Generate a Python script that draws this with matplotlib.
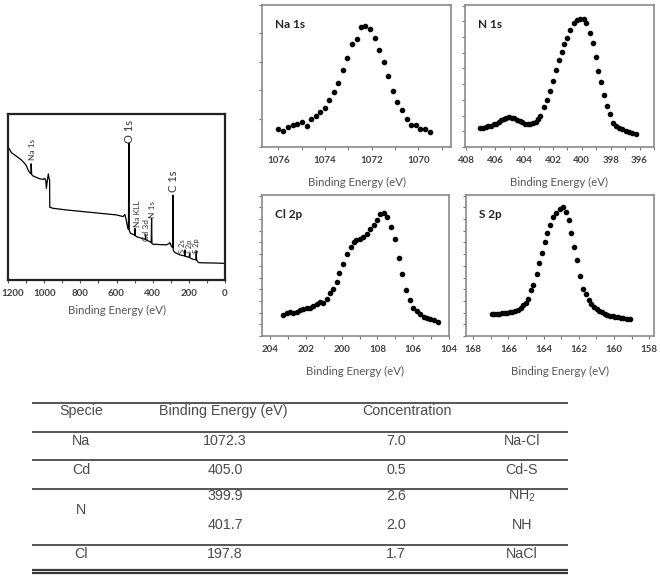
import matplotlib.pyplot as plt
from matplotlib.ticker import MultipleLocator, NullFormatter, FuncFormatter

# ---- survey spectrum (energy in eV, intensity in arbitrary units) ----
survey_e = [1200, 1181, 1163, 1145, 1126, 1108, 1098, 1089, 1080, 1073, 1072, 1069,
            1062, 1043, 1025, 1006, 997, 991, 988, 982, 977, 973, 970, 969, 951, 877,
            785, 692, 600, 563, 554, 548, 539, 534, 531, 530, 526, 522, 508, 500, 498,
            497, 489, 471, 452, 441, 439, 438, 434, 415, 408, 406, 404, 401, 397, 378,
            360, 323, 308, 305, 297, 290, 288, 286, 282, 277, 268, 249, 231, 223, 222,
            220, 212, 198, 196, 194, 190, 175, 161, 159, 157, 153, 148, 139, 102, 46, 0]
survey_i = [80.3, 76.7, 75.3, 73.9, 72.3, 70.3, 68.7, 66.3, 64.7, 64.0, 70.0, 63.5,
            62.7, 61.8, 61.0, 60.6, 61.2, 60.0, 55.2, 60.2, 63.9, 61.0, 60.5, 43.8, 43.2, 42.2,
            41.2, 40.2, 39.2, 38.2, 39.5, 37.1, 32.1, 30.5, 82.3, 30.1, 29.0, 28.1, 27.5, 27.1, 31.0,
            26.8, 26.1, 25.5, 24.8, 24.5, 27.5, 24.2, 24.0, 23.1, 22.5, 37.1, 22.0, 21.7, 21.5, 21.5,
            21.3, 21.2, 22.0, 22.5, 20.5, 19.5, 51.2, 18.0, 17.1, 16.5, 16.1, 15.1, 14.7, 14.5, 18.1,
            14.3, 14.1, 13.7, 16.1, 13.3, 13.1, 12.4, 12.2, 17.1, 12.0, 11.5, 10.6, 10.4, 10.3, 10.2, 10.0]
survey_labels = ['Na 1s', 'O 1s', 'Na KLL', 'Cd 3d', 'N 1s', 'C 1s', 'S 2s', 'Cl 2p', 'S 2p']
survey_label_e = [1067, 530, 486, 434, 401, 283, 235, 196, 155]
survey_label_i = [72.3, 82.7, 31.7, 23.7, 37.1, 53.2, 16.5, 14.0, 16.5]
survey_label_size = [6, 8, 6, 6, 6, 8, 5.5, 5.5, 5.5]

# ---- Na 1s ----
na_e = [1076.00, 1075.79, 1075.58, 1075.37, 1075.19, 1075.00, 1074.77, 1074.58, 1074.38,
        1074.21, 1074.02, 1073.82, 1073.63, 1073.43, 1073.24, 1073.04, 1072.85, 1072.65,
        1072.46, 1072.29, 1072.09, 1071.87, 1071.68, 1071.48, 1071.29, 1071.09, 1070.90,
        1070.70, 1070.50, 1070.31, 1070.11, 1069.92, 1069.72, 1069.51]
na_i = [0.65, 0.57, 0.71, 0.78, 0.80, 0.87, 0.75, 0.97, 1.08, 1.24, 1.39, 1.67, 1.94,
        2.26, 2.71, 3.15, 3.62, 3.79, 4.24, 4.26, 4.16, 3.85, 3.41, 3.01, 2.49, 1.98,
        1.59, 1.32, 0.99, 0.77, 0.77, 0.65, 0.65, 0.53]

# ---- N 1s ----
n_e = [407.03, 406.85, 406.66, 406.48, 406.29, 406.11, 405.92, 405.74, 405.58, 405.41,
       405.23, 405.04, 404.86, 404.67, 404.49, 404.30, 404.12, 403.94, 403.75, 403.57,
       403.38, 403.20, 403.03, 402.87, 402.64, 402.41, 402.23, 402.00, 401.81, 401.58,
       401.39, 401.21, 401.03, 400.79, 400.56, 400.33, 400.10, 399.87, 399.69, 399.45,
       399.22, 399.04, 398.85, 398.67, 398.48, 398.25, 398.02, 397.84, 397.61, 397.42,
       397.19, 396.96, 396.73, 396.50, 396.27]
n_i = [1.21, 1.23, 1.28, 1.32, 1.36, 1.45, 1.49, 1.57, 1.70, 1.81, 1.87, 1.91, 1.87,
       1.83, 1.74, 1.66, 1.62, 1.49, 1.45, 1.49, 1.53, 1.62, 1.79, 2.00, 2.55, 2.98,
       3.57, 4.21, 4.89, 5.53, 6.02, 6.53, 6.91, 7.45, 7.91, 8.09, 8.15, 8.13, 7.87,
       7.28, 6.60, 5.70, 4.85, 4.15, 3.30, 2.60, 2.13, 1.53, 1.32, 1.23, 1.15, 1.02,
       0.98, 0.89, 0.85]

# ---- Cl 2p ----
cl_e = [203.26, 203.07, 202.88, 202.70, 202.51, 202.33, 202.14, 201.96, 201.77, 201.58,
        201.40, 201.21, 201.03, 200.84, 200.65, 200.47, 200.28, 200.13, 199.95, 199.72,
        199.50, 199.32, 199.17, 198.98, 198.79, 198.61, 198.39, 198.20, 198.01, 197.83,
        197.64, 197.46, 197.23, 197.01, 196.82, 196.60, 196.42, 196.19, 196.01, 195.78,
        195.60, 195.41, 195.23, 195.04, 194.85, 194.63]
cl_i = [1.83, 1.97, 2.03, 1.97, 2.09, 2.20, 2.31, 2.40, 2.43, 2.54, 2.77, 2.89, 2.83,
        3.20, 3.69, 4.06, 4.63, 5.40, 6.14, 7.00, 7.63, 8.06, 8.20, 8.26, 8.43, 8.71,
        9.11, 9.51, 9.91, 10.43, 10.49, 10.20, 9.29, 8.26, 6.63, 5.34, 3.97, 3.11, 2.43,
        2.14, 1.86, 1.63, 1.51, 1.46, 1.40, 1.17]

# ---- S 2p ----
s_e = [166.96, 166.83, 166.67, 166.52, 166.37, 166.22, 166.07, 165.92, 165.77, 165.61,
       165.46, 165.31, 165.16, 165.01, 164.89, 164.74, 164.59, 164.40, 164.25, 164.10,
       163.95, 163.80, 163.61, 163.45, 163.27, 163.08, 162.89, 162.73, 162.58, 162.43,
       162.28, 162.13, 161.94, 161.75, 161.60, 161.45, 161.30, 161.14, 160.99, 160.84,
       160.69, 160.54, 160.39, 160.23, 160.08, 159.93, 159.78, 159.63, 159.48, 159.29, 159.10]
s_i = [1.91, 1.91, 1.91, 1.91, 1.94, 1.97, 2.00, 2.03, 2.09, 2.14, 2.26, 2.43, 2.63,
       2.83, 3.20, 3.91, 4.40, 5.29, 6.26, 7.11, 8.06, 8.77, 9.49, 10.14, 10.54, 10.89,
       11.00, 10.60, 9.91, 8.83, 7.57, 6.54, 5.11, 4.06, 3.57, 3.11, 2.77, 2.49, 2.31,
       2.14, 2.03, 1.91, 1.80, 1.74, 1.69, 1.63, 1.60, 1.57, 1.51, 1.49, 1.46]

# ---- table ----
table_header = ['Specie', 'Binding Energy (eV)', 'Concentration', '']
species = ['Na', 'Cd', 'N', 'Cl']
binding = ['1072.3', '405.0', '399.9', '401.7', '197.8']
concentration = ['7.0', '0.5', '2.6', '2.0', '1.7']
assignment = ['Na-Cl', 'Cd-S', r'$\mathregular{NH_2}$', 'NH', 'NaCl']

W, H = 660, 577
fig = plt.figure(figsize=(6.6, 5.77), dpi=100)
plt.rcParams['font.family'] = ['Lato', 'DejaVu Sans']

# table drawn on a full-figure pixel canvas
axt = fig.add_axes([0, 0, 1, 1])
axt.set_xlim(0, W)
axt.set_ylim(H, 0)
axt.axis('off')
tcol = '#3a3a3a'
tfont = dict(family='Liberation Sans', fontsize=10.3, color='#4a4a4a', ha='center', va='center')
for yl in [402.7, 431.7, 460, 488.7, 545]:
    axt.hlines(yl, 31.5, 568, color=tcol, lw=1.2)
axt.hlines([570.3, 573.3], 31.5, 568, color=tcol, lw=1.6)
head_x = [81, 223, 407, 522]
for xh, t in zip(head_x, table_header):
    axt.text(xh, 411, t, **tfont)
col_x = [81, 225, 396, 522]
spec_y = [441, 469.5, 510, 553.5]
row_y = [441, 469.5, 496, 525, 553.5]
for sp, yy in zip(species, spec_y):
    axt.text(col_x[0], yy, sp, **tfont)
for b, c, a, yy in zip(binding, concentration, assignment, row_y):
    axt.text(col_x[1], yy, b, **tfont)
    axt.text(col_x[2], yy, c, **tfont)
    axt.text(col_x[3], yy, a, **tfont)


def px_axes(x0, y0, x1, y1):
    return fig.add_axes([x0 / W, 1 - y1 / H, (x1 - x0) / W, (y1 - y0) / H])


tick_font = dict(fontsize=7, fontweight='bold', color='#404040')
label_font = dict(fontsize=8.2, color='#555555')

# survey panel
ax0 = px_axes(8, 114, 225, 280)
ax0.plot(survey_e, survey_i, color='black', lw=0.9)
ax0.set_xlim(1200, 0)
ax0.set_ylim(0, 100)
ax0.set_yticks([])
ax0.xaxis.set_major_locator(MultipleLocator(200))
ax0.xaxis.set_minor_locator(MultipleLocator(100))
# the 1200 label is drawn separately, nudged right so it is not cut at the edge
ax0.xaxis.set_major_formatter(FuncFormatter(lambda v, _: '' if v >= 1200 else f'{v:.0f}'))
ax0.tick_params(axis='x', which='both', direction='out', length=2.5, width=0.8,
                color='#555555', pad=4)
ax0.annotate('1200', xy=(1200, 0), xycoords=('data', 'axes fraction'),
             xytext=(3, -6.5), textcoords='offset points', ha='center', va='top',
             **tick_font)
for lab in ax0.get_xticklabels():
    lab.set(**tick_font)
for sp in ax0.spines.values():
    sp.set_linewidth(1.6)
    sp.set_color('#222222')
ax0.set_xlabel('Binding Energy (eV)', **label_font)
ax0.xaxis.set_label_coords(0.5, -0.15)
for t, e, i, s in zip(survey_labels, survey_label_e, survey_label_i, survey_label_size):
    ax0.text(e, i, t, rotation=90, ha='center', va='bottom', fontsize=s, color='#333333')

# high resolution panels
panels = [
    ((262, 5, 451, 147), na_e, na_i, 'Na 1s', (1076.7, 1068.6), (0, 5.0), None),
    ((465, 5, 654, 147), n_e, n_i, 'N 1s', (408.1, 395.0), (0, 9.04), None),
    ((262, 195, 449, 336), cl_e, cl_i, 'Cl 2p', (204.45, 194.0), (0, 12.06),
     ['204', '202', '200', '108', '106', '104']),
    ((466, 195, 654, 336), s_e, s_i, 'S 2p', (168.41, 157.73), (0, 12.06), None),
]
for box, xe, yi, title, xl, yl, custom in panels:
    ax = px_axes(*box)
    ax.plot(xe, yi, 'o', color='black', ms=3.0, mec='black')
    ax.set_xlim(*xl)
    ax.set_ylim(*yl)
    ax.xaxis.set_major_locator(MultipleLocator(2))
    ax.xaxis.set_minor_locator(MultipleLocator(1))
    ax.yaxis.set_major_locator(MultipleLocator(1))
    ax.yaxis.set_major_formatter(NullFormatter())
    if custom is not None:
        ax.set_xticks([204, 202, 200, 198, 196, 194])
        ax.set_xticklabels(custom)
    ax.tick_params(which='both', direction='out', length=2.5, width=0.8,
                   color='#777777', pad=4)
    for lab in ax.get_xticklabels():
        lab.set(**tick_font)
    for sp in ax.spines.values():
        sp.set_linewidth(1.2)
        sp.set_color('#8a8a8a')
    ax.set_xlabel('Binding Energy (eV)', **label_font)
    ax.xaxis.set_label_coords(0.5, -0.21)
    ax.text(0.07, 0.86, title, transform=ax.transAxes, fontsize=8.5,
            fontweight='bold', color='#222222', va='center', ha='left')

fig.savefig('out.png', dpi=100)
